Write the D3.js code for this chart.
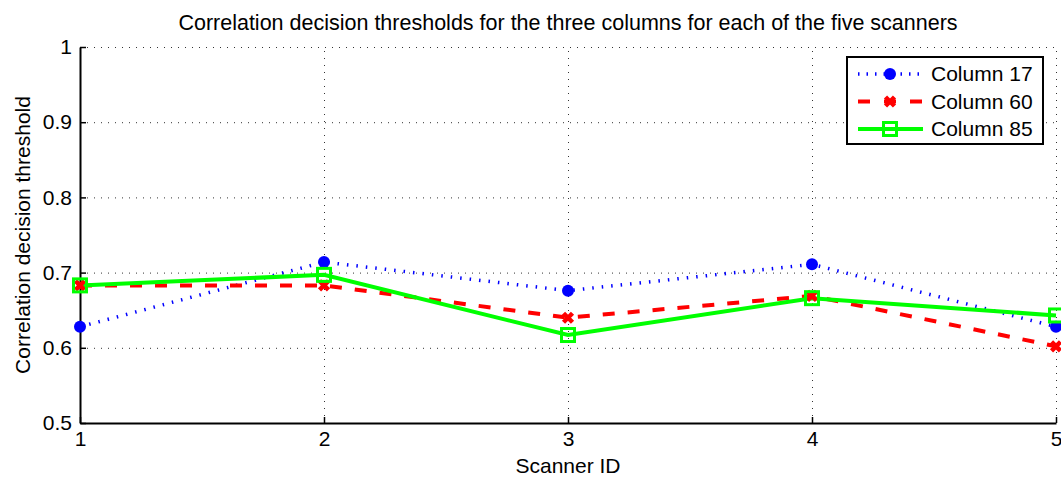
<!DOCTYPE html>
<html>
<head>
<meta charset="utf-8">
<script src="https://cdn.jsdelivr.net/npm/d3@7"></script>
<style>
  body { margin: 0; background: #fff; }
  text { font-family: "Liberation Sans", Arial, sans-serif; }
</style>
</head>
<body>
<svg id="chart" width="1061" height="479"></svg>
<script>
var scanners = [1, 2, 3, 4, 5];
var col17 = [0.628, 0.714, 0.676, 0.711, 0.628];
var col60 = [0.683, 0.683, 0.640, 0.669, 0.602];
var col85 = [0.683, 0.697, 0.617, 0.666, 0.643];
var yTicks = [0.5, 0.6, 0.7, 0.8, 0.9, 1];
var seriesNames = ["Column 17", "Column 60", "Column 85"];

var svg = d3.select("#chart");
var margin = {top: 47, right: 5, bottom: 56, left: 80};
var width = 1061, height = 479;
var fs = 21;

var x = d3.scaleLinear().domain([1, 5]).range([margin.left, width - margin.right]);
var y = d3.scaleLinear().domain([0.5, 1]).range([height - margin.bottom, margin.top]);

// grid
var grid = svg.append("g").attr("stroke", "#333").attr("stroke-width", 1).attr("stroke-dasharray", "1,6");
grid.selectAll(".gy").data(yTicks.slice(1)).enter().append("line")
  .attr("x1", x(1)).attr("x2", x(5))
  .attr("y1", d => y(d) + 0.5).attr("y2", d => y(d) + 0.5);
grid.selectAll(".gx").data(scanners.slice(1)).enter().append("line")
  .attr("x1", d => x(d) + 0.5).attr("x2", d => x(d) + 0.5)
  .attr("y1", y(0.5)).attr("y2", y(1));

// axes
var xAxis = svg.append("g")
  .attr("transform", "translate(0," + y(0.5) + ")")
  .call(d3.axisBottom(x).tickValues(scanners).tickFormat(d3.format("d")).tickSizeInner(-6).tickSizeOuter(0).tickPadding(10));
var yAxis = svg.append("g")
  .attr("transform", "translate(" + x(1) + ",0)")
  .call(d3.axisLeft(y).tickValues(yTicks).tickFormat(d => d === 1 ? "1" : d3.format(".1f")(d)).tickSizeInner(-6).tickSizeOuter(0).tickPadding(8));
[xAxis, yAxis].forEach(function(a) {
  a.selectAll("text").attr("font-size", fs).attr("fill", "#000");
  a.selectAll("line").attr("stroke", "#000").attr("stroke-width", 1.5);
  a.select(".domain").attr("stroke", "#000").attr("stroke-width", 2);
});
xAxis.selectAll("text").attr("dy", "0.6em");

// lines
var line = d3.line().x((d, i) => x(scanners[i])).y(d => y(d));

svg.append("path").datum(col17).attr("d", line).attr("fill", "none")
  .attr("stroke", "#0000ff").attr("stroke-width", 3.5).attr("stroke-dasharray", "1.5,8");
svg.append("path").datum(col60).attr("d", line).attr("fill", "none")
  .attr("stroke", "#ff0000").attr("stroke-width", 4).attr("stroke-dasharray", "12,13");
svg.append("path").datum(col85).attr("d", line).attr("fill", "none")
  .attr("stroke", "#00ff00").attr("stroke-width", 4);

function drawDot(g, cx, cy) {
  g.append("circle").attr("cx", cx).attr("cy", cy).attr("r", 6).attr("fill", "#0000ff");
}
function drawCross(g, cx, cy) {
  g.append("path").attr("d", "M" + (cx - 4.5) + "," + (cy - 4.5) + "L" + (cx + 4.5) + "," + (cy + 4.5) +
    "M" + (cx - 4.5) + "," + (cy + 4.5) + "L" + (cx + 4.5) + "," + (cy - 4.5))
    .attr("stroke", "#ff0000").attr("stroke-width", 4.5).attr("fill", "none");
}
function drawSquare(g, cx, cy) {
  g.append("rect").attr("x", cx - 6.5).attr("y", cy - 6.5).attr("width", 13).attr("height", 13)
    .attr("fill", "none").attr("stroke", "#00ff00").attr("stroke-width", 3);
}

var marks = svg.append("g");
col17.forEach((d, i) => drawDot(marks, x(scanners[i]), y(d)));
col60.forEach((d, i) => drawCross(marks, x(scanners[i]), y(d)));
col85.forEach((d, i) => drawSquare(marks, x(scanners[i]), y(d)));

// title and labels
svg.append("text").attr("x", (x(1) + x(5)) / 2).attr("y", 30).attr("text-anchor", "middle")
  .attr("font-size", 21.5).text("Correlation decision thresholds for the three columns for each of the five scanners");
svg.append("text").attr("x", (x(1) + x(5)) / 2).attr("y", 473).attr("text-anchor", "middle")
  .attr("font-size", fs).text("Scanner ID");
svg.append("text").attr("transform", "translate(30," + y(0.75) + ") rotate(-90)").attr("text-anchor", "middle")
  .attr("font-size", fs).text("Correlation decision threshold");

// legend
var lg = svg.append("g");
lg.append("rect").attr("x", 847).attr("y", 57).attr("width", 196).attr("height", 87)
  .attr("fill", "#fff").attr("stroke", "#000").attr("stroke-width", 2);
var styles = [
  {color: "#0000ff", w: 3.5, dash: "1.5,7", mark: drawDot},
  {color: "#ff0000", w: 4, dash: "12,14", mark: drawCross},
  {color: "#00ff00", w: 4, dash: null, mark: drawSquare}
];
seriesNames.forEach(function(name, i) {
  var cy = 74 + i * 27.5;
  var s = styles[i];
  lg.append("line").attr("x1", 858).attr("x2", 923).attr("y1", cy).attr("y2", cy)
    .attr("stroke", s.color).attr("stroke-width", s.w).attr("stroke-dasharray", s.dash);
  s.mark(lg, 890, cy);
  lg.append("text").attr("x", 931).attr("y", cy).attr("dy", "0.35em").attr("font-size", fs).text(name);
});
</script>
</body>
</html>
